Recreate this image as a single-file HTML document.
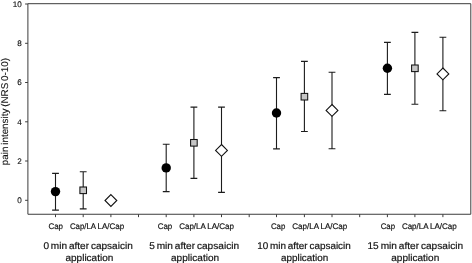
<!DOCTYPE html><html><head><meta charset="utf-8"><title>chart</title><style>html,body{margin:0;padding:0;background:#fff}svg{display:block;stroke-width:0.18px}text{font-family:"Liberation Sans",Arial,sans-serif;fill:#111;stroke:#111;text-rendering:geometricPrecision}</style></head><body>
<svg width="472" height="263" viewBox="0 0 472 263">
<rect width="472" height="263" fill="#fff"/>
<g stroke="#3c3c3c" stroke-width="1.0" fill="none">
<path d="M27.9 3.7H470.8V214.25H27.9Z"/>
</g>
<g stroke="#3c3c3c" stroke-width="1" fill="none">
<path d="M25.1 200.3H27.9"/>
<path d="M25.1 161.0H27.9"/>
<path d="M25.1 121.8H27.9"/>
<path d="M25.1 82.5H27.9"/>
<path d="M25.1 43.3H27.9"/>
<path d="M25.1 4.0H27.9"/>
<path d="M55.5 214.25V217.15"/>
<path d="M83.2 214.25V217.15"/>
<path d="M110.9 214.25V217.15"/>
<path d="M138.5 214.25V217.15"/>
<path d="M166.2 214.25V217.15"/>
<path d="M193.9 214.25V217.15"/>
<path d="M221.5 214.25V217.15"/>
<path d="M249.2 214.25V217.15"/>
<path d="M276.5 214.25V217.15"/>
<path d="M304.4 214.25V217.15"/>
<path d="M332.0 214.25V217.15"/>
<path d="M359.7 214.25V217.15"/>
<path d="M387.4 214.25V217.15"/>
<path d="M414.9 214.25V217.15"/>
<path d="M442.9 214.25V217.15"/>
</g>
<g font-size="8.1" text-anchor="end" stroke-width="0.12">
<text x="21.7" y="203.20">0</text>
<text x="21.7" y="163.94">2</text>
<text x="21.7" y="124.68">4</text>
<text x="21.7" y="85.42">6</text>
<text x="21.7" y="46.16">8</text>
<text x="21.7" y="6.90">10</text>
</g>
<text font-size="9.8" stroke-width="0.1" text-anchor="middle" word-spacing="-0.9" textLength="107.2" lengthAdjust="spacingAndGlyphs" transform="translate(8.1 111.6) rotate(-90)">pain intensity (NRS 0-10)</text>
<g stroke="#1c1c1c" stroke-width="1.1" fill="none">
<path d="M55.5 173.4V210.1M52.1 173.4H58.9M52.1 210.1H58.9"/>
<path d="M83.2 171.7V208.9M79.8 171.7H86.60000000000001M79.8 208.9H86.60000000000001"/>
<path d="M166.2 144.2V191.6M162.79999999999998 144.2H169.6M162.79999999999998 191.6H169.6"/>
<path d="M193.9 107.1V178.4M190.5 107.1H197.3M190.5 178.4H197.3"/>
<path d="M221.5 107.1V192.4M218.1 107.1H224.9M218.1 192.4H224.9"/>
<path d="M276.5 77.6V148.9M273.1 77.6H279.9M273.1 148.9H279.9"/>
<path d="M304.4 61.4V131.5M301.0 61.4H307.79999999999995M301.0 131.5H307.79999999999995"/>
<path d="M332.0 72.3V148.7M328.6 72.3H335.4M328.6 148.7H335.4"/>
<path d="M387.4 42.4V94.4M384.0 42.4H390.79999999999995M384.0 94.4H390.79999999999995"/>
<path d="M414.9 32.4V104.2M411.5 32.4H418.29999999999995M411.5 104.2H418.29999999999995"/>
<path d="M442.9 37.2V110.7M439.5 37.2H446.29999999999995M439.5 110.7H446.29999999999995"/>
</g>
<circle cx="55.5" cy="191.6" r="4.7" fill="#000"/>
<rect x="79.90" y="187.00" width="6.6" height="6.6" fill="#c6c6c6" stroke="#111" stroke-width="1.05"/>
<path d="M110.9 194.6L116.80000000000001 200.5L110.9 206.4L105.0 200.5Z" fill="#fff" stroke="#111" stroke-width="1.1"/>
<circle cx="166.2" cy="167.9" r="4.7" fill="#000"/>
<rect x="190.60" y="139.50" width="6.6" height="6.6" fill="#c6c6c6" stroke="#111" stroke-width="1.05"/>
<path d="M221.5 144.5L227.4 150.4L221.5 156.3L215.6 150.4Z" fill="#fff" stroke="#111" stroke-width="1.1"/>
<circle cx="276.5" cy="113.0" r="4.7" fill="#000"/>
<rect x="301.10" y="93.40" width="6.6" height="6.6" fill="#c6c6c6" stroke="#111" stroke-width="1.05"/>
<path d="M332.0 104.5L337.9 110.4L332.0 116.30000000000001L326.1 110.4Z" fill="#fff" stroke="#111" stroke-width="1.1"/>
<circle cx="387.4" cy="68.2" r="4.7" fill="#000"/>
<rect x="411.60" y="65.00" width="6.6" height="6.6" fill="#c6c6c6" stroke="#111" stroke-width="1.05"/>
<path d="M442.9 68.0L448.79999999999995 73.9L442.9 79.80000000000001L437.0 73.9Z" fill="#fff" stroke="#111" stroke-width="1.1"/>
<g font-size="8.2" text-anchor="middle">
<text x="55.70" y="229.1" textLength="14.6" lengthAdjust="spacingAndGlyphs">Cap</text>
<text x="83.00" y="229.1" textLength="26.2" lengthAdjust="spacingAndGlyphs">Cap/LA</text>
<text x="110.90" y="229.1" textLength="26.8" lengthAdjust="spacingAndGlyphs">LA/Cap</text>
<text x="165.00" y="229.1" textLength="14.6" lengthAdjust="spacingAndGlyphs">Cap</text>
<text x="192.50" y="229.1" textLength="26.6" lengthAdjust="spacingAndGlyphs">Cap/LA</text>
<text x="220.65" y="229.1" textLength="26.9" lengthAdjust="spacingAndGlyphs">LA/Cap</text>
<text x="278.10" y="229.1" textLength="14.4" lengthAdjust="spacingAndGlyphs">Cap</text>
<text x="305.65" y="229.1" textLength="26.9" lengthAdjust="spacingAndGlyphs">Cap/LA</text>
<text x="333.90" y="229.1" textLength="26.8" lengthAdjust="spacingAndGlyphs">LA/Cap</text>
<text x="387.90" y="229.1" textLength="14.4" lengthAdjust="spacingAndGlyphs">Cap</text>
<text x="415.25" y="229.1" textLength="26.7" lengthAdjust="spacingAndGlyphs">Cap/LA</text>
<text x="443.35" y="229.1" textLength="26.9" lengthAdjust="spacingAndGlyphs">LA/Cap</text>
</g>
<g font-size="9.8" text-anchor="middle" word-spacing="-0.9">
<text x="88.10" y="248.6" textLength="89.4" lengthAdjust="spacingAndGlyphs">0 min after capsaicin</text>
<text x="89.40" y="260.7" textLength="47.8" lengthAdjust="spacingAndGlyphs">application</text>
<text x="194.15" y="248.6" textLength="89.9" lengthAdjust="spacingAndGlyphs">5 min after capsaicin</text>
<text x="195.05" y="260.7" textLength="48.1" lengthAdjust="spacingAndGlyphs">application</text>
<text x="304.00" y="248.6" textLength="93.6" lengthAdjust="spacingAndGlyphs">10 min after capsaicin</text>
<text x="304.60" y="260.7" textLength="47.4" lengthAdjust="spacingAndGlyphs">application</text>
<text x="415.30" y="248.6" textLength="95.6" lengthAdjust="spacingAndGlyphs">15 min after capsaicin</text>
<text x="415.25" y="260.7" textLength="48.1" lengthAdjust="spacingAndGlyphs">application</text>
</g>
</svg></body></html>
